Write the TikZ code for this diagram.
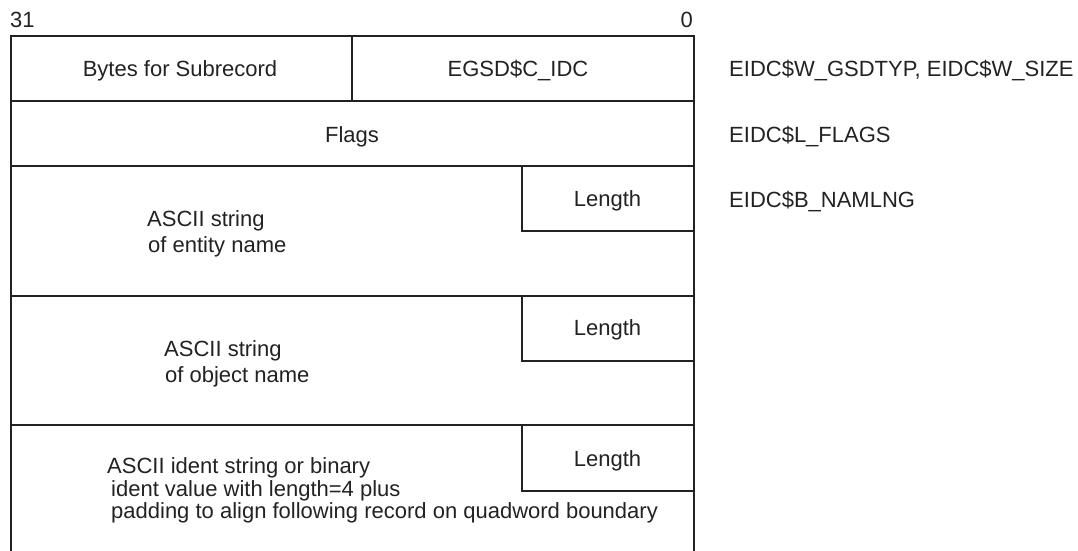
\documentclass[tikz,border=0pt]{standalone}
\usepackage{fontspec}
\setmainfont{Liberation Sans}
\definecolor{ink}{HTML}{222222}
\begin{document}
\begin{tikzpicture}[x=1pt,y=-1pt,
  frame/.style={draw=ink,line width=1.8pt},
  lbl/.style={inner sep=0pt,text=ink,font=\fontsize{22}{26}\selectfont},
  lw/.style={lbl,anchor=base west},
  lc/.style={lbl,anchor=base}]
\useasboundingbox (0,0) rectangle (1078,551);
% fields
\draw[frame] (11,36) rectangle (352,101);
\draw[frame] (352,36) rectangle (694,101);
\draw[frame] (11,101) rectangle (694,166);
\draw[frame] (11,166) rectangle (694,296);
\draw[frame] (522,166) rectangle (694,231);
\draw[frame] (11,296) rectangle (694,425);
\draw[frame] (522,296) rectangle (694,361);
\draw[frame] (11,551) -- (11,425) -- (694,425) -- (694,551);
\draw[frame] (522,425) rectangle (694,491);
% bit numbers
\node[lw] (b31) at (10,28) {31};
\node[lbl,anchor=base east] (b0) at (693,28) {0};
% texts
\node[lc] (bytes) at (180,76) {Bytes for Subrecord};
\node[lc] (egsd) at (518,76) {EGSD\$C\_IDC};
\node[lc] (flags) at (352,142) {Flags};
\node[lc] (len1) at (607.5,206) {Length};
\node[lc] (len2) at (607.5,335) {Length};
\node[lc] (len3) at (607.5,466) {Length};
\node[lw] (ent1) at (147,226) {ASCII string};
\node[lw] (ent2) at (148,252) {of entity name};
\node[lw] (obj1) at (164,356) {ASCII string};
\node[lw] (obj2) at (165,382) {of object name};
\node[lw] (id1) at (107,473) {ASCII ident string or binary};
\node[lw] (id2) at (111,496) {ident value with length=4 plus};
\node[lw] (id3) at (111,518) {padding to align following record on quadword boundary};
% right labels
\node[lw] (r1) at (729,76) {EIDC\$W\_GSDTYP, EIDC\$W\_SIZE};
\node[lw] (r2) at (729,142) {EIDC\$L\_FLAGS};
\node[lw] (r3) at (729,207) {EIDC\$B\_NAMLNG};
\end{tikzpicture}
\end{document}
